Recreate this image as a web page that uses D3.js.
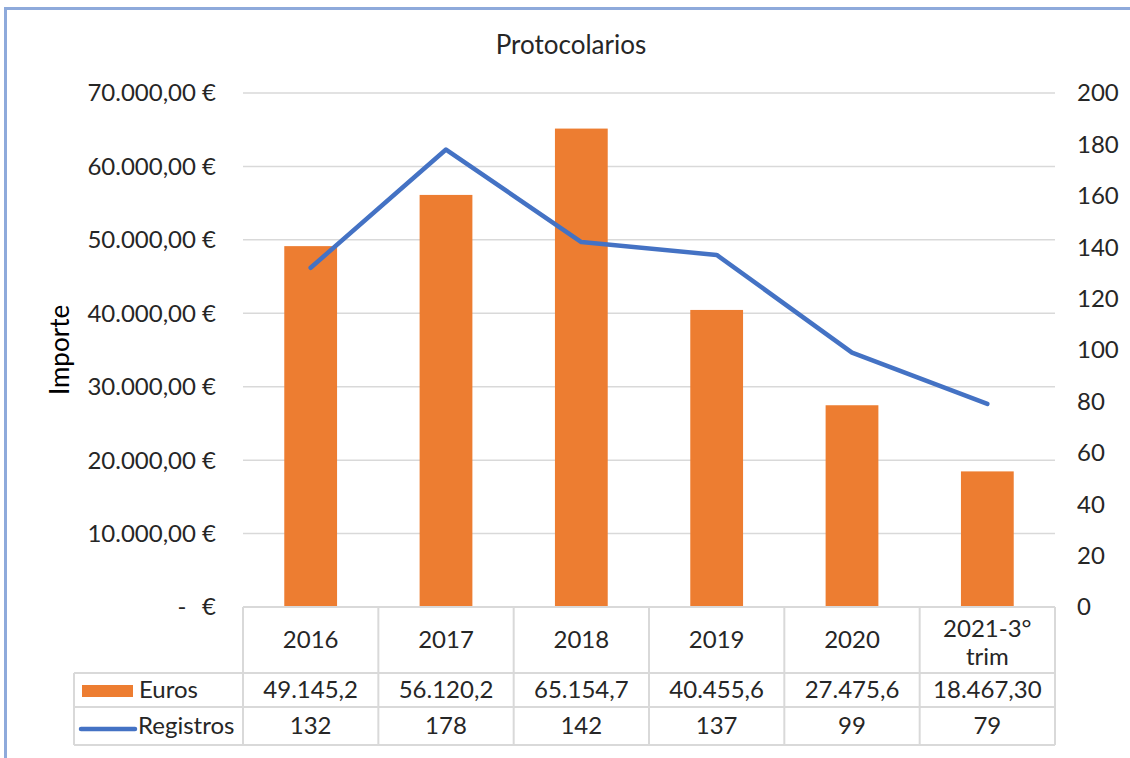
<!DOCTYPE html>
<html>
<head>
<meta charset="utf-8">
<script src="https://cdn.jsdelivr.net/npm/d3@7.9.0/dist/d3.min.js"></script>
<style>
  body { margin: 0; background: #fff; }
  svg { display: block; font-family: Lato, "Open Sans", sans-serif; }
</style>
</head>
<body>
<div id="chart"></div>
<script>
const categories = ['2016', '2017', '2018', '2019', '2020', '2021-3°\ntrim'];
const euros = [49145.2, 56120.2, 65154.7, 40455.6, 27475.6, 18467.30];
const euroLabels = ['49.145,2', '56.120,2', '65.154,7', '40.455,6', '27.475,6', '18.467,30'];
const registros = [132, 178, 142, 137, 99, 79];
const leftTicks = [0, 10000, 20000, 30000, 40000, 50000, 60000, 70000];
const rightTicks = [0, 20, 40, 60, 80, 100, 120, 140, 160, 180, 200];

const width = 1130;
const height = 758;
const plot = { left: 243, right: 1055, top: 93, bottom: 607 };
const rows = { header: 673, euros: 707, registros: 745, legendLeft: 74 };
const grid = '#d9d9d9';
const textColor = '#262626';
const fs = 24;

const svg = d3.select('#chart').append('svg')
  .attr('width', width)
  .attr('height', height);

// outer frame
svg.append('rect')
  .attr('x', 5.5).attr('y', 8.5)
  .attr('width', width + 10).attr('height', height + 10)
  .attr('fill', 'none')
  .attr('stroke', '#8eaadb')
  .attr('stroke-width', 3);

const x = d3.scaleBand().domain(categories).range([plot.left, plot.right]);
const yL = d3.scaleLinear().domain([0, 70000]).range([plot.bottom, plot.top]);
const yR = d3.scaleLinear().domain([0, 200]).range([plot.bottom, plot.top]);

// title
svg.append('text')
  .attr('x', 571).attr('y', 54)
  .attr('text-anchor', 'middle')
  .attr('font-size', 26)
  .attr('fill', textColor)
  .text('Protocolarios');

// gridlines
svg.append('g')
  .selectAll('line')
  .data(leftTicks.filter(d => d > 0))
  .join('line')
  .attr('x1', plot.left).attr('x2', plot.right)
  .attr('y1', d => yL(d)).attr('y2', d => yL(d))
  .attr('stroke', grid)
  .attr('stroke-width', 1.5);

// left axis labels
const fmtEuro = (d) => d3.format(',.2f')(d).replace(/,/g, 'X').replace('.', ',').replace(/X/g, '.') + ' €';
const left = svg.append('g').attr('font-size', fs).attr('fill', textColor);
left.selectAll('text.tick')
  .data(leftTicks.filter(d => d > 0))
  .join('text')
  .attr('class', 'tick')
  .attr('x', 216)
  .attr('y', d => yL(d))
  .attr('dy', '0.35em')
  .attr('text-anchor', 'end')
  .text(fmtEuro);
left.append('text')
  .attr('x', 182).attr('y', yL(0)).attr('dy', '0.35em')
  .attr('text-anchor', 'middle')
  .text('-');
left.append('text')
  .attr('x', 216).attr('y', yL(0)).attr('dy', '0.35em')
  .attr('text-anchor', 'end')
  .text('€');

// left axis title
svg.append('text')
  .attr('transform', `translate(69, 350) rotate(-90)`)
  .attr('text-anchor', 'middle')
  .attr('font-size', 26)
  .attr('fill', 'black')
  .text('Importe');

// right axis labels
svg.append('g')
  .attr('font-size', fs)
  .attr('fill', textColor)
  .selectAll('text')
  .data(rightTicks)
  .join('text')
  .attr('x', 1077)
  .attr('y', d => yR(d))
  .attr('dy', '0.35em')
  .text(d => d);

// bars
const barW = x.bandwidth() * 0.39;
svg.append('g')
  .selectAll('rect')
  .data(categories)
  .join('rect')
  .attr('x', (d) => x(d) + x.bandwidth() / 2 - barW / 2)
  .attr('y', (d, i) => yL(euros[i]))
  .attr('width', barW)
  .attr('height', (d, i) => yL(0) - yL(euros[i]))
  .attr('fill', '#ed7d31');

// line
const line = d3.line()
  .x((d, i) => x(categories[i]) + x.bandwidth() / 2)
  .y((d) => yR(d));
svg.append('path')
  .datum(registros)
  .attr('d', line)
  .attr('fill', 'none')
  .attr('stroke', '#4472c4')
  .attr('stroke-width', 4.5)
  .attr('stroke-linejoin', 'round')
  .attr('stroke-linecap', 'round');

// data table
const table = svg.append('g').attr('stroke', grid).attr('stroke-width', 2);
table.append('line')
  .attr('x1', plot.left).attr('x2', plot.right)
  .attr('y1', plot.bottom).attr('y2', plot.bottom);
[rows.header, rows.euros, rows.registros].forEach((yy) => {
  table.append('line')
    .attr('x1', rows.legendLeft).attr('x2', plot.right)
    .attr('y1', yy).attr('y2', yy);
});
table.append('line')
  .attr('x1', rows.legendLeft).attr('x2', rows.legendLeft)
  .attr('y1', rows.header).attr('y2', rows.registros);
table.selectAll('line.col')
  .data(categories.concat(['end']))
  .join('line')
  .attr('class', 'col')
  .attr('x1', (d) => d === 'end' ? plot.right : x(d))
  .attr('x2', (d) => d === 'end' ? plot.right : x(d))
  .attr('y1', plot.bottom).attr('y2', rows.registros);

const cells = svg.append('g').attr('font-size', fs).attr('fill', textColor).attr('text-anchor', 'middle');
categories.forEach((c, i) => {
  const cx = x(c) + x.bandwidth() / 2;
  const parts = c.split('\n');
  if (parts.length === 1) {
    cells.append('text').attr('x', cx)
      .attr('y', (plot.bottom + rows.header) / 2).attr('dy', '0.35em').text(c);
  } else {
    parts.forEach((p, j) => {
      cells.append('text').attr('x', cx)
        .attr('y', 629 + j * 28).attr('dy', '0.35em').text(p);
    });
  }
  cells.append('text')
    .attr('x', cx).attr('y', (rows.header + rows.euros) / 2).attr('dy', '0.35em')
    .text(euroLabels[i]);
  cells.append('text')
    .attr('x', cx).attr('y', (rows.euros + rows.registros) / 2).attr('dy', '0.35em')
    .text(registros[i]);
});

// legend keys in table
svg.append('rect')
  .attr('x', 82).attr('y', 685).attr('width', 51).attr('height', 12)
  .attr('fill', '#ed7d31');
svg.append('line')
  .attr('x1', 81).attr('x2', 135).attr('y1', 729).attr('y2', 729)
  .attr('stroke', '#4472c4').attr('stroke-width', 4.5)
  .attr('stroke-linecap', 'round');
svg.append('text')
  .attr('x', 139).attr('y', (rows.header + rows.euros) / 2).attr('dy', '0.35em')
  .attr('font-size', fs).attr('fill', textColor).text('Euros');
svg.append('text')
  .attr('x', 138).attr('y', (rows.euros + rows.registros) / 2).attr('dy', '0.35em')
  .attr('font-size', fs).attr('fill', textColor).text('Registros');
</script>
</body>
</html>
